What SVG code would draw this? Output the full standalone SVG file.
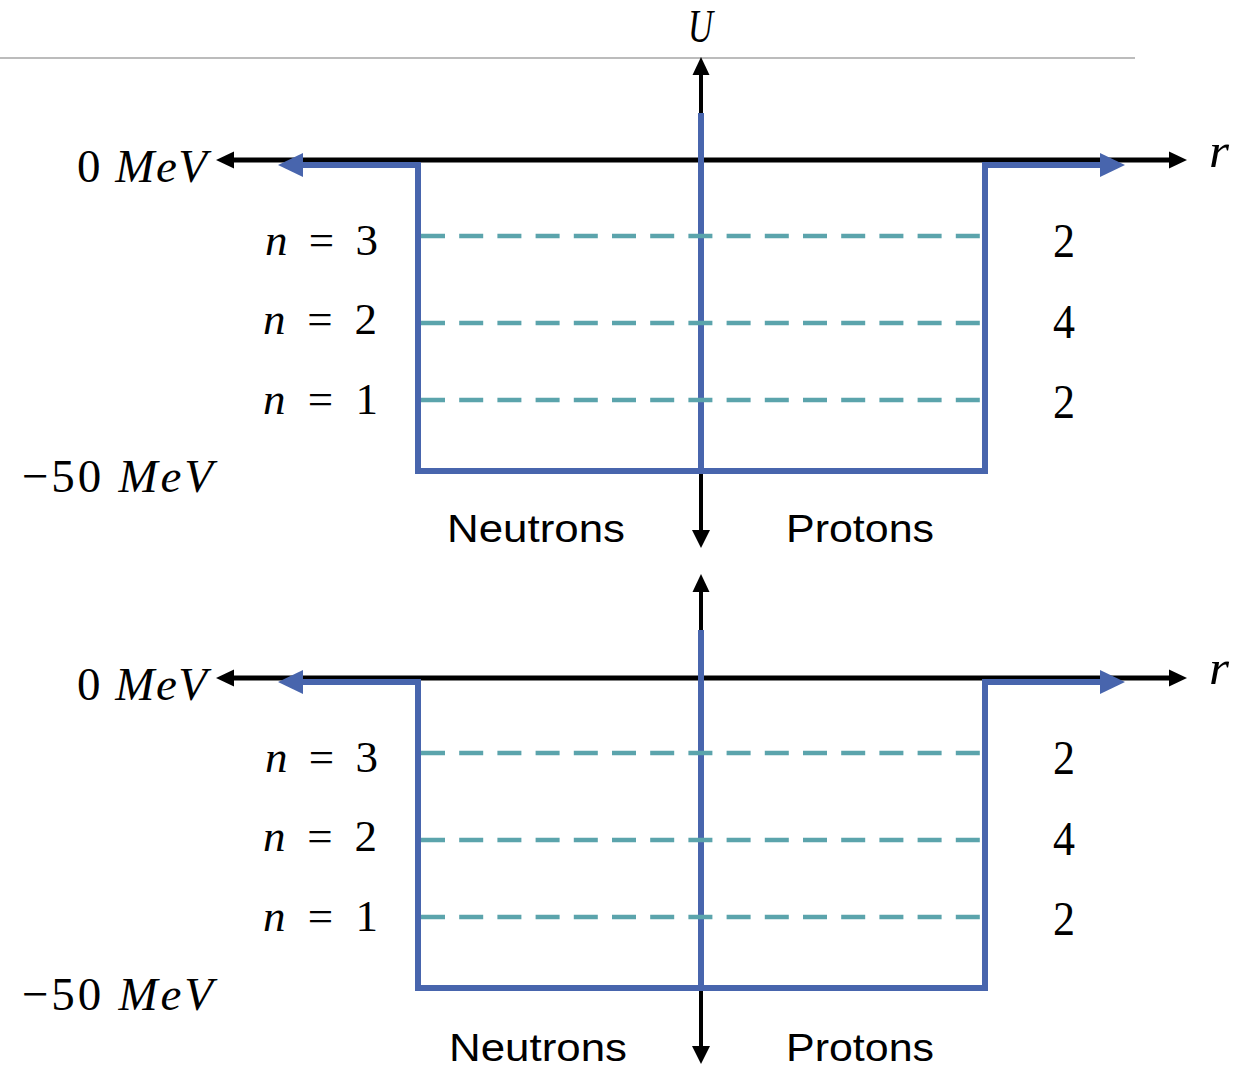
<svg xmlns="http://www.w3.org/2000/svg" width="1253" height="1067" viewBox="0 0 1253 1067">
<style>
.axis{stroke:#000;stroke-width:5;fill:none}
.vaxis{stroke:#000;stroke-width:4;fill:none}
.head{fill:#000}
.well{stroke:#4865ad;stroke-width:6;fill:none}
.bhead{fill:#4865ad}
.lvl{stroke:#5ba4ac;stroke-width:4.5;stroke-dasharray:24 14.2;fill:none}
.math{font-family:"Liberation Serif","DejaVu Serif",serif;fill:#000}
.it{font-style:italic}
.lab{font-family:"Liberation Sans","Open Sans",sans-serif;font-size:38px;fill:#000}
</style>
<rect width="1253" height="1067" fill="#fff"/>
<line x1="0" y1="58" x2="1135" y2="58" stroke="#a6a6a6" stroke-width="1.5"/>
<g id="U-label"><text class="math it" x="688" y="42" font-size="46" textLength="25" lengthAdjust="spacingAndGlyphs">U</text></g>

<g id="panel-top">
  <g id="connectors-top">
    <line class="axis" x1="230" y1="160" x2="1172" y2="160"/>
    <polygon class="head" points="216,160 234,151.5 234,168.5"/>
    <polygon class="head" points="1187,160 1169,151.5 1169,168.5"/>
    <line class="vaxis" x1="701" y1="72" x2="701" y2="533"/>
    <polygon class="head" points="701,57 692.5,75 709.5,75"/>
    <polygon class="head" points="701,548 692,530 710,530"/>
  </g>
  <g id="well-top">
    <polyline class="well" points="300,165 418,165 418,471 985,471 985,165 1102,165"/>
    <line class="well" x1="701" y1="113" x2="701" y2="471"/>
    <polygon class="bhead" points="278,165 303,153 303,177"/>
    <polygon class="bhead" points="1125,165 1100,153 1100,177"/>
  </g>
  <g id="levels-top">
    <line class="lvl" x1="421" y1="236" x2="982" y2="236"/>
    <line class="lvl" x1="421" y1="323" x2="982" y2="323"/>
    <line class="lvl" x1="421" y1="400" x2="982" y2="400"/>
  </g>
  <g id="labels-top">
    <text class="math" x="77" y="182" font-size="47" textLength="130" lengthAdjust="spacing">0 <tspan class="it">MeV</tspan></text>
    <text class="math" x="22" y="492" font-size="47" textLength="191" lengthAdjust="spacing">−50 <tspan class="it">MeV</tspan></text>
    <text class="math" x="265" y="255" font-size="45" textLength="113" lengthAdjust="spacing"><tspan class="it">n</tspan> = 3</text>
    <text class="math" x="263" y="334" font-size="45" textLength="114" lengthAdjust="spacing"><tspan class="it">n</tspan> = 2</text>
    <text class="math" x="263" y="414" font-size="45" textLength="115" lengthAdjust="spacing"><tspan class="it">n</tspan> = 1</text>
    <text class="math" x="1053" y="257" font-size="48" textLength="22" lengthAdjust="spacingAndGlyphs">2</text>
    <text class="math" x="1053" y="338" font-size="48" textLength="22" lengthAdjust="spacingAndGlyphs">4</text>
    <text class="math" x="1053" y="418" font-size="48" textLength="22" lengthAdjust="spacingAndGlyphs">2</text>
    <text class="math it" x="1209" y="167" font-size="48" textLength="20" lengthAdjust="spacingAndGlyphs">r</text>
    <text class="lab" x="447" y="542" textLength="178" lengthAdjust="spacingAndGlyphs">Neutrons</text>
    <text class="lab" x="786" y="542" textLength="148" lengthAdjust="spacingAndGlyphs">Protons</text>
  </g>
</g>

<g id="panel-bottom" transform="translate(0,518)">
  <g id="connectors-bottom">
    <line class="axis" x1="230" y1="160" x2="1172" y2="160"/>
    <polygon class="head" points="216,160 234,151.5 234,168.5"/>
    <polygon class="head" points="1187,160 1169,151.5 1169,168.5"/>
    <line class="vaxis" x1="701" y1="72" x2="701" y2="531"/>
    <polygon class="head" points="701,56 692.5,74 709.5,74"/>
    <polygon class="head" points="701,546 692,528 710,528"/>
  </g>
  <g id="well-bottom">
    <polyline class="well" points="300,164 418,164 418,470 985,470 985,164 1102,164"/>
    <line class="well" x1="701" y1="112" x2="701" y2="470"/>
    <polygon class="bhead" points="278,164 303,152 303,176"/>
    <polygon class="bhead" points="1125,164 1100,152 1100,176"/>
  </g>
  <g id="levels-bottom">
    <line class="lvl" x1="421" y1="235" x2="982" y2="235"/>
    <line class="lvl" x1="421" y1="322" x2="982" y2="322"/>
    <line class="lvl" x1="421" y1="399" x2="982" y2="399"/>
  </g>
  <g id="labels-bottom">
    <text class="math" x="77" y="182" font-size="47" textLength="130" lengthAdjust="spacing">0 <tspan class="it">MeV</tspan></text>
    <text class="math" x="22" y="492" font-size="47" textLength="191" lengthAdjust="spacing">−50 <tspan class="it">MeV</tspan></text>
    <text class="math" x="265" y="254" font-size="45" textLength="113" lengthAdjust="spacing"><tspan class="it">n</tspan> = 3</text>
    <text class="math" x="263" y="333" font-size="45" textLength="114" lengthAdjust="spacing"><tspan class="it">n</tspan> = 2</text>
    <text class="math" x="263" y="413" font-size="45" textLength="115" lengthAdjust="spacing"><tspan class="it">n</tspan> = 1</text>
    <text class="math" x="1053" y="256" font-size="48" textLength="22" lengthAdjust="spacingAndGlyphs">2</text>
    <text class="math" x="1053" y="337" font-size="48" textLength="22" lengthAdjust="spacingAndGlyphs">4</text>
    <text class="math" x="1053" y="417" font-size="48" textLength="22" lengthAdjust="spacingAndGlyphs">2</text>
    <text class="math it" x="1209" y="166" font-size="48" textLength="20" lengthAdjust="spacingAndGlyphs">r</text>
    <text class="lab" x="449" y="543" textLength="178" lengthAdjust="spacingAndGlyphs">Neutrons</text>
    <text class="lab" x="786" y="543" textLength="148" lengthAdjust="spacingAndGlyphs">Protons</text>
  </g>
</g>
</svg>
